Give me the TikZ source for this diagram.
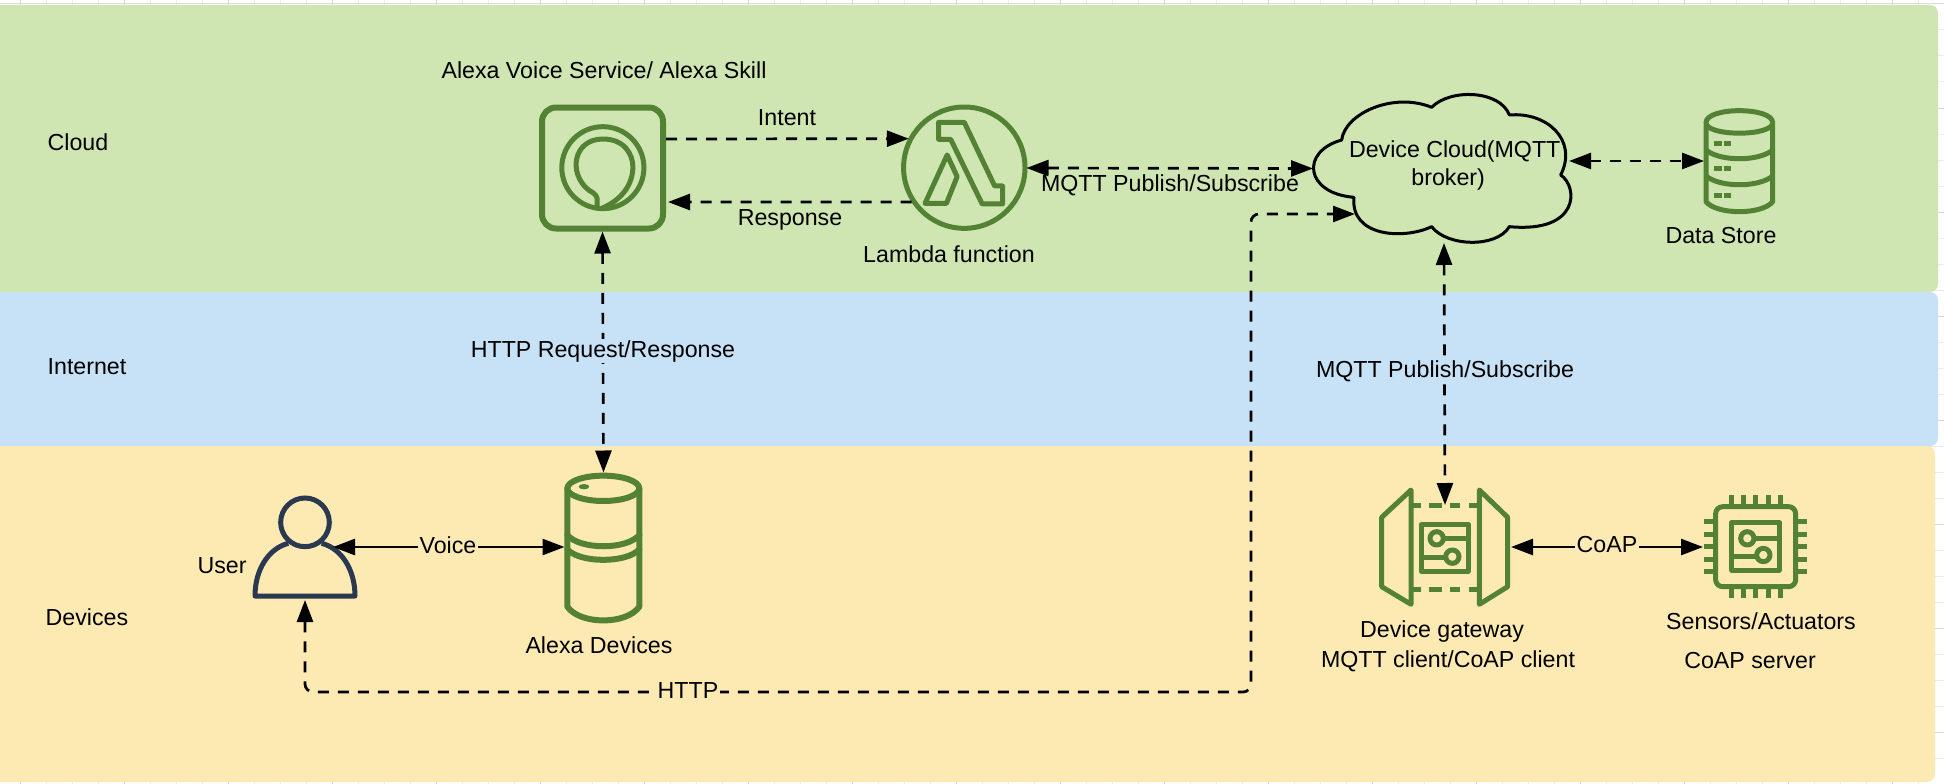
\documentclass[tikz,border=0pt]{standalone}
\usepackage{fontspec}
\setmainfont{Liberation Sans}
\usetikzlibrary{arrows.meta,calc}
\definecolor{bandgreen}{HTML}{CFE6B2}
\definecolor{bandblue}{HTML}{C7E2F6}
\definecolor{bandyellow}{HTML}{FDEAB2}
\definecolor{icongreen}{HTML}{548235}
\definecolor{usernavy}{HTML}{2A3950}
\tikzset{
  band/.style={rounded corners=8pt,draw=none},
  txt/.style={font=\fontsize{23.2}{28}\selectfont,inner sep=0pt,align=center},
  lbl/.style={txt,inner sep=1.5pt},
  hit/.style={inner sep=0pt,outer sep=0pt,draw=none},
  icon/.style={draw=icongreen,line width=6pt,line join=round,line cap=round},
  thinicon/.style={draw=icongreen,line width=5pt,line join=round},
  link/.style={line width=2.7pt,draw=black,{Triangle[length=22pt,width=16pt]}-{Triangle[length=22pt,width=16pt]}},
  dashlink/.style={link,dash pattern=on 11pt off 9pt},
  oneway/.style={line width=2.7pt,draw=black,dash pattern=on 11pt off 9pt,-{Triangle[length=22pt,width=16pt]}},
  gridminor/.style={draw=black!8,line width=1pt},
  gridmajor/.style={draw=black!15,line width=1pt},
}
\begin{document}
\begin{tikzpicture}[x=1pt,y=-1pt]
\useasboundingbox (0,0) rectangle (1944,784);
% background grid
\foreach \k in {0,...,74}{\draw[gridminor] ({20+26*\k},0) -- ({20+26*\k},784);}
\foreach \k in {0,...,18}{\draw[gridmajor] ({20+104*\k},0) -- ({20+104*\k},784);}
\foreach \k in {0,...,29}{\draw[gridminor] (0,{30+26*\k}) -- (1944,{30+26*\k});}
\foreach \k in {0,...,7}{\draw[gridmajor] (0,{0+104*\k+4}) -- (1944,{0+104*\k+4});}
% bands
\fill[band,bandyellow] (-10,446) rectangle (1935,782);
\fill[band,bandgreen] (-10,5) rectangle (1938,292);
\fill[band,bandblue] (-10,292) rectangle (1938,446);
% anchor nodes
\node[hit,minimum width=127pt,minimum height=127pt] (alexa) at (602.5,168) {};
\node[hit,circle,minimum size=125pt] (lam) at (964,168) {};
\node[hit,minimum width=262pt,minimum height=149pt] (cloud) at (1444,168.5) {};
\node[hit,minimum width=70pt,minimum height=101pt] (store) at (1739,161) {};
\node[hit,minimum width=100pt,minimum height=104pt] (user) at (305,548) {};
\node[hit,minimum width=78pt,minimum height=150pt] (dev) at (603.5,547.5) {};
\node[hit,minimum width=128pt,minimum height=118pt] (gw) at (1445,564) {};
\node[hit,minimum width=104pt,minimum height=104pt] (sens) at (1755,547) {};
\coordinate (userV) at (333,547);
\coordinate (devV) at (dev.west |- userV);
\coordinate (cloudE) at (1569,161);
\coordinate (cloudSW) at (1355,214);
\coordinate (gwE) at (1511,547);
\coordinate (sensW) at (1703,547);
\coordinate (httpA) at (1251,692);
\coordinate (httpB) at (305,692);
% Alexa icon
\draw[icon,rounded corners=14pt] ($(alexa.south west)+(3,-3)$) rectangle ($(alexa.north east)+(-3,3)$);
\begin{scope}[shift={(500,60)},x=0.35714pt,y=-0.33333pt]
\draw[thinicon] (288,323) ellipse [x radius=115,y radius=123];
\draw[thinicon] (272,445) -- (272,415) .. controls (268,400) and (255,395) .. (248,390)
  .. controls (190,340) and (205,237) .. (288,237)
  .. controls (350,237) and (372,285) .. (372,320)
  .. controls (372,375) and (340,420) .. (285,445);
% lambda
\draw[thinicon] (1300,323) ellipse [x radius=170,y radius=182];
\draw[thinicon] (1228,187) -- (1300,187) -- (1385,378) -- (1407,378) -- (1407,432) -- (1350,432) -- (1262,238) -- (1228,238) -- cycle;
\draw[thinicon] (1252,285) -- (1280,350) -- (1250,430) -- (1190,430) -- cycle;
\end{scope}
% cloud and data store
\begin{scope}[shift={(1300,90)},x=0.33333pt,y=-0.33333pt]
\draw[black,line width=3pt,line join=round] (125,150)
 .. controls (135,70) and (280,5) .. (395,52)
 .. controls (450,-5) and (600,0) .. (628,75)
 .. controls (740,65) and (835,150) .. (782,255)
 .. controls (835,290) and (840,430) .. (628,410)
 .. controls (590,475) and (440,470) .. (395,410)
 .. controls (310,450) and (150,440) .. (162,322)
 .. controls (15,310) and (0,185) .. (125,150) -- cycle;
\draw[thinicon] (1218,98) .. controls (1218,50) and (1418,50) .. (1418,98)
  .. controls (1418,140) and (1218,140) .. (1218,98) -- (1218,335)
  .. controls (1250,375) and (1386,375) .. (1418,335) -- (1418,98);
\draw[thinicon] (1218,180) .. controls (1260,215) and (1376,215) .. (1418,180);
\draw[thinicon] (1218,258) .. controls (1260,293) and (1376,293) .. (1418,258);
\foreach \yy in {160,237,316}{
  \draw[thinicon] (1243,\yy) -- (1265,\yy) (1272,\yy) -- (1293,\yy);}
\end{scope}
% user
\begin{scope}[shift={(180,460)},x=0.33333pt,y=-0.33333pt]
\draw[draw=usernavy,line width=5pt] (375,187) circle [radius=73];
\draw[draw=usernavy,line width=5pt,line join=round] (325,250) .. controls (265,265) and (225,330) .. (225,408) -- (525,408)
  .. controls (525,330) and (485,265) .. (425,250);
\end{scope}
% Alexa device
\begin{scope}[shift={(180,460)},x=0.33333pt,y=-0.33333pt]
\draw[icon] (1270,85) ellipse [x radius=108,y radius=38];
\fill[icongreen] (1212,80) ellipse [x radius=16,y radius=8];
\draw[icon] (1162,85) -- (1162,440) .. controls (1200,495) and (1340,495) .. (1378,440) -- (1378,85);
\draw[icon] (1162,225) .. controls (1200,270) and (1340,270) .. (1378,225);
\draw[icon] (1162,268) .. controls (1200,310) and (1340,310) .. (1378,268);
\end{scope}
% gateway and sensor
\begin{scope}[shift={(1340,470)},x=0.33333pt,y=-0.33333pt]
\draw[thinicon] (213,60) -- (125,142) -- (125,350) -- (213,403) -- cycle;
\draw[thinicon] (418,60) -- (503,142) -- (503,350) -- (418,403) -- cycle;
\foreach \yy in {107,357}{
  \draw[thinicon] (218,\yy) -- (243,\yy) (268,\yy) -- (305,\yy) (330,\yy) -- (360,\yy) (388,\yy) -- (413,\yy);}
\draw[thinicon] (243,163) rectangle (385,303);
\draw[thinicon] (290,205) circle [radius=20];
\draw[thinicon] (310,205) -- (385,205);
\draw[thinicon] (243,262) -- (317,262);
\draw[thinicon] (337,260) circle [radius=20];
\draw[thinicon,rounded corners=7pt] (1127,110) rectangle (1367,350);
\draw[thinicon] (1175,158) rectangle (1318,300);
\draw[thinicon] (1222,205) circle [radius=20];
\draw[thinicon] (1242,205) -- (1318,205);
\draw[thinicon] (1175,258) -- (1250,258);
\draw[thinicon] (1270,255) circle [radius=20];
\foreach \xx in {1173,1210,1247,1284,1322}{
  \draw[thinicon] (\xx,75) -- (\xx,110) (\xx,350) -- (\xx,385);}
\foreach \yy in {155,192,230,268,305}{
  \draw[thinicon] (1093,\yy) -- (1127,\yy) (1367,\yy) -- (1402,\yy);}
\end{scope}
% connectors
\draw[oneway] ([yshift=29pt]alexa.east) -- (lam.152.4);
\draw[oneway] (lam.213) -- ([yshift=-34pt,xshift=2pt]alexa.east);
\draw[dashlink] (lam.east) -- (cloud.west);
\draw[dashlink] (cloudE) -- (store.west |- cloudE);
\draw[dashlink] (alexa.south) -- (dev.north);
\draw[dashlink] (cloud.south) -- (gw.north);
\draw[link] (userV) -- (devV);
\draw[link] (gwE) -- (sensW);
\draw[dashlink,rounded corners=8pt] (user.south) -- (httpB) -- (httpA) -- (httpA |- cloudSW) -- (cloudSW);
% labels on connectors
\node[lbl,fill=bandblue] (lHTTPrr) at (603,351) {HTTP Request/Response};
\node[lbl,fill=bandblue] (lMQTT2) at (1445,371) {MQTT Publish/Subscribe};
\node[lbl,fill=bandyellow] (lVoice) at (448,545) {Voice};
\node[lbl,fill=bandyellow] (lCoAP) at (1607,545) {CoAP};
\node[lbl,fill=bandyellow] (lHTTP) at (688,690.5) {HTTP};
% plain texts
\node[txt] (tAVS) at (604,70) {Alexa Voice Service/ Alexa Skill};
\node[txt] (tIntent) at (787,118) {Intent};
\node[txt] (tResp) at (790,220) {Response};
\node[txt] (tLam) at (949,254) {Lambda function};
\node[txt] (tMQTT1) at (1170,185) {MQTT Publish/Subscribe};
\node[txt] (tCloud) at (1454.7,165.5) {Device Cloud(MQTT\\broker)\hspace*{13pt}};
\node[txt] (tStore) at (1721,236) {Data Store};
\node[txt] (bCloud) at (78,142) {Cloud};
\node[txt] (bNet) at (87,367) {Internet};
\node[txt] (bDev) at (87,617) {Devices};
\node[txt] (tUser) at (222,566) {User};
\node[txt] (tDev) at (599,645.5) {Alexa Devices};
\node[txt] (tGw1) at (1442,631) {Device gateway};
\node[txt] (tGw2) at (1448,661) {MQTT client/CoAP client};
\node[txt] (tSens1) at (1761,621) {Sensors/Actuators};
\node[txt] (tSens2) at (1750,660.5) {CoAP server};
\end{tikzpicture}
\end{document}
